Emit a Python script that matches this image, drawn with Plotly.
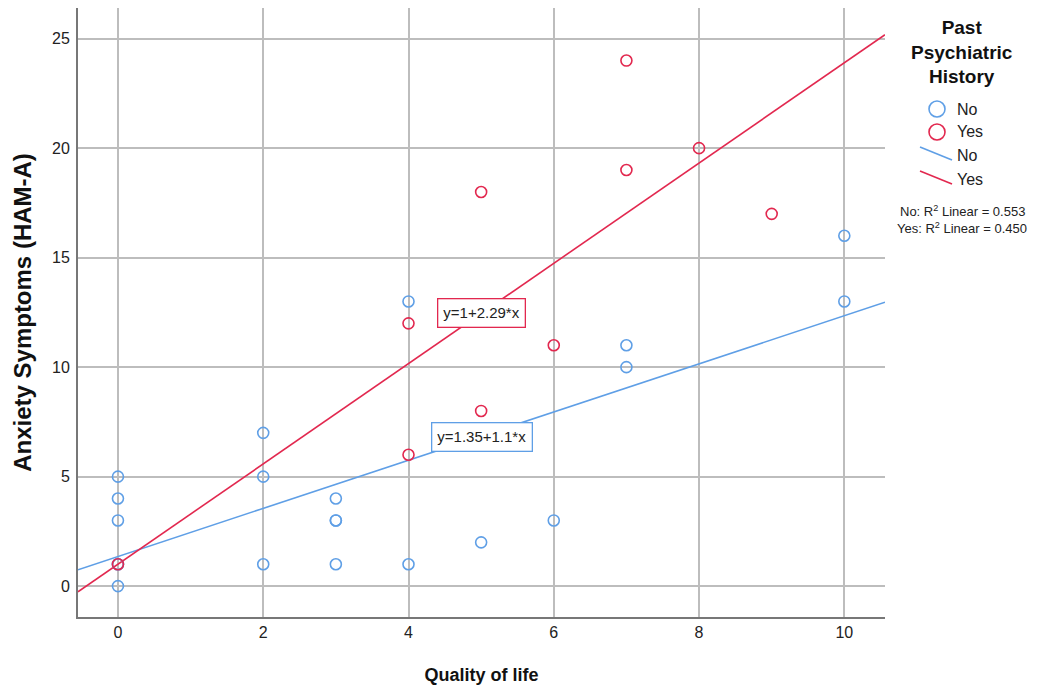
import plotly.graph_objects as go

# ---- data ----
no_x = [0, 0, 0, 0, 0, 0, 2, 2, 2, 3, 3, 3, 3, 4, 4, 5, 6, 7, 7, 10, 10]
no_y = [5, 4, 3, 1, 1, 0, 7, 5, 1, 4, 3, 3, 1, 13, 1, 2, 3, 11, 10, 16, 13]
yes_x = [0, 4, 4, 5, 5, 6, 7, 7, 8, 9]
yes_y = [1, 12, 6, 18, 8, 11, 24, 19, 20, 17]

fit_groups = ["No", "Yes"]
fit_intercepts = [1.35, 1.0]
fit_slopes = [1.1, 2.29]
fit_labels = ["y=1.35+1.1*x", "y=1+2.29*x"]
r2_values = [0.553, 0.450]

x_ticks = [0, 2, 4, 6, 8, 10]
y_ticks = [0, 5, 10, 15, 20, 25]

X_RANGE = [-0.55, 10.56]
Y_RANGE = [-1.41, 26.4]

BLUE = "#5f9fe6"
RED = "#e2284f"
FONT = "Liberation Sans, Arial, sans-serif"

fig = go.Figure()

colors = [BLUE, RED]
for g, b0, b1, c in zip(fit_groups, fit_intercepts, fit_slopes, colors):
    xs = X_RANGE
    ys = [b0 + b1 * v for v in xs]
    fig.add_trace(go.Scatter(x=xs, y=ys, mode="lines", line=dict(color=c, width=1.6),
                             name=g, showlegend=False, hoverinfo="skip"))

fig.add_trace(go.Scatter(x=no_x, y=no_y, mode="markers", name="No", showlegend=False,
                         marker=dict(symbol="circle-open", size=11, color=BLUE,
                                     line=dict(width=1.6, color=BLUE))))
fig.add_trace(go.Scatter(x=yes_x, y=yes_y, mode="markers", name="Yes", showlegend=False,
                         marker=dict(symbol="circle-open", size=11, color=RED,
                                     line=dict(width=1.6, color=RED))))

label_pos = [(5.01, 6.8), (5.0, 12.45)]
for (lx, ly), txt, c in zip(label_pos, fit_labels, colors):
    fig.add_annotation(x=lx, y=ly, xref="x", yref="y", text=txt, showarrow=False,
                       font=dict(family=FONT, size=15, color="#222"),
                       bgcolor="white", bordercolor=c, borderwidth=1.3, borderpad=5)

# ---- layout geometry (page has an 8px body offset) ----
OFF = 8
W, H = 1036, 680
L, R, T, B = 70, 159, 0, 71
pw, ph = W - L - R, H - T - B

def px(xs):
    return (xs - OFF - L) / pw

def py(ys):
    return (OFF + H - B - ys) / ph

fig.add_annotation(x=px(962), y=py(52), xref="paper", yref="paper",
                   text="<b>Past<br>Psychiatric<br>History</b>", showarrow=False,
                   font=dict(family=FONT, size=19, color="#111"), align="center",
                   xanchor="center", yanchor="middle")

for yp, c, g in zip([109, 132], colors, fit_groups):
    fig.add_shape(type="circle", xref="paper", yref="paper", xsizemode="pixel",
                  ysizemode="pixel", xanchor=px(937), yanchor=py(yp),
                  x0=-8, x1=8, y0=-8, y1=8, line=dict(color=c, width=1.6))
    fig.add_annotation(x=px(955), y=py(yp), xref="paper", yref="paper", text=g,
                       showarrow=False, xanchor="left", yanchor="middle",
                       font=dict(family=FONT, size=16, color="#222"))

for yp, c, g in zip([155, 179], colors, fit_groups):
    fig.add_shape(type="line", xref="paper", yref="paper",
                  x0=px(920), y0=py(yp - 8), x1=px(952), y1=py(yp + 5),
                  line=dict(color=c, width=1.6))
    fig.add_annotation(x=px(955), y=py(yp), xref="paper", yref="paper", text=g,
                       showarrow=False, xanchor="left", yanchor="middle",
                       font=dict(family=FONT, size=16, color="#222"))

for yp, g, r2 in zip([211, 228], fit_groups, r2_values):
    fig.add_annotation(x=px(962), y=py(yp), xref="paper", yref="paper",
                       text=f"{g}: R<sup>2</sup> Linear = {r2:.3f}", showarrow=False,
                       xanchor="center", yanchor="middle",
                       font=dict(family=FONT, size=13, color="#222"))

fig.update_layout(
    width=W, height=H,
    margin=dict(l=L, r=R, t=T, b=B, pad=0),
    paper_bgcolor="white", plot_bgcolor="white",
    font=dict(family=FONT, size=16, color="#222"),
    showlegend=False,
)
fig.update_xaxes(range=X_RANGE, tickvals=x_ticks, ticktext=[str(v) for v in x_ticks],
                 showgrid=True, gridcolor="#bdbdbd", gridwidth=1.5, zeroline=False,
                 showline=True, linecolor="#777", linewidth=2, ticks="",
                 tickfont=dict(family=FONT, size=16, color="#222"),
                 title=dict(text="<b>Quality of life</b>", standoff=28,
                            font=dict(family=FONT, size=18, color="#111")))
fig.update_yaxes(range=Y_RANGE, tickvals=y_ticks, ticktext=[str(v) for v in y_ticks],
                 showgrid=True, gridcolor="#bdbdbd", gridwidth=1.5, zeroline=False,
                 showline=True, linecolor="#777", linewidth=2, ticks="outside",
                 ticklen=3, tickcolor="rgba(0,0,0,0)",
                 tickfont=dict(family=FONT, size=16, color="#222"),
                 title=dict(text="<b>Anxiety Symptoms (HAM-A)</b>", standoff=14,
                            font=dict(family=FONT, size=24, color="#111")))

fig.write_html("out.html")
